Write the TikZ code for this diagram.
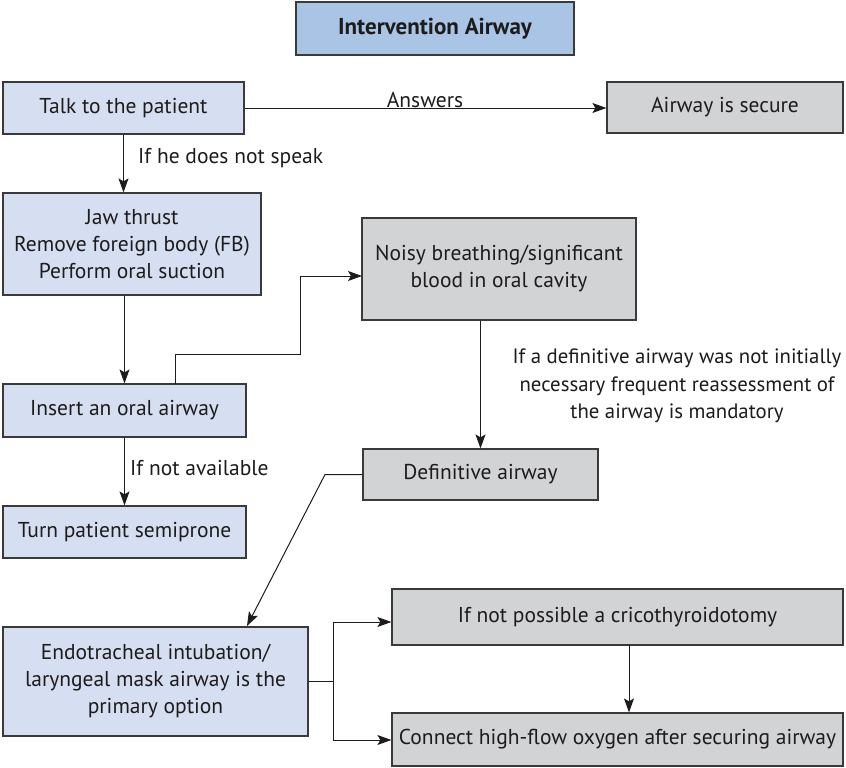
\documentclass[tikz,border=0pt]{standalone}
\usepackage{fontspec}
\setmainfont{PT Sans}
\usetikzlibrary{arrows.meta,calc}
\definecolor{boxblue}{HTML}{D6DFF1}
\definecolor{titleblue}{HTML}{A9C4E5}
\definecolor{boxgray}{HTML}{D2D3D5}
\definecolor{edge}{HTML}{3A3A3A}
\definecolor{ink}{HTML}{1E1B1C}
\begin{document}
\begin{tikzpicture}[x=1pt,y=-1pt,
  every node/.style={text=ink,font=\fontsize{21.5}{27}\selectfont},
  box/.style={draw=edge,line width=1.2pt,inner sep=0pt,align=center},
  bluebox/.style={box,fill=boxblue},
  graybox/.style={box,fill=boxgray},
  flow/.style={draw=ink,line width=1pt,-{Stealth[length=14pt,width=10pt,inset=3pt]}},
  plain/.style={draw=ink,line width=1pt},
  lbl/.style={inner sep=0pt}]
\useasboundingbox (0,0) rectangle (846,768);

% boxes
\node[box,fill=titleblue,minimum width=278pt,minimum height=53pt,font=\fontsize{23}{27}\selectfont\bfseries] (title) at (435,28.5) {Intervention Airway};
\node[bluebox,minimum width=241pt,minimum height=52pt] (talk) at (123.5,108) {Talk to the patient};
\node[graybox,minimum width=236pt,minimum height=51pt] (secure) at (725,107.5) {Airway is secure};
\node[bluebox,minimum width=258pt,minimum height=102pt] (jaw) at (132,244) {Jaw thrust\\Remove foreign body (FB)\\Perform oral suction};
\node[graybox,minimum width=274pt,minimum height=102pt] (noisy) at (499,269) {Noisy breathing/significant\\blood in oral cavity};
\node[bluebox,minimum width=243pt,minimum height=53pt] (insert) at (124.5,410.5) {Insert an oral airway};
\node[bluebox,minimum width=243pt,minimum height=52pt] (turn) at (124.5,532) {Turn patient semiprone};
\node[graybox,minimum width=235pt,minimum height=51pt] (definitive) at (480.5,474.5) {Definitive airway};
\node[bluebox,minimum width=305pt,minimum height=109pt] (endo) at (155.5,681.5) {Endotracheal intubation/\\laryngeal mask airway is the\\primary option};
\node[graybox,minimum width=451pt,minimum height=56pt] (crico) at (617.5,617) {If not possible a cricothyroidotomy};
\node[graybox,minimum width=451pt,minimum height=53pt] (oxygen) at (617.5,739.5) {Connect high-flow oxygen after securing airway};

% labels
\node[lbl,anchor=west] (speak) at (138,158) {If he does not speak};
\node[lbl] (answers) at (425,100) {Answers};
\node[lbl,anchor=west] (avail) at (130,468) {If not available};
\node[lbl,align=center,font=\fontsize{20.8}{27.5}\selectfont] (note) at (677,386) {If a definitive airway was not initially\\necessary frequent reassessment of\\the airway is mandatory};

% connectors
\draw[flow] (talk.south) -- (talk.south |- jaw.north);
\draw[flow] (talk.east) -- (secure.west |- talk.east);
\draw[flow] (insert.north |- jaw.south) -- (insert.north);
\draw[flow] (insert.south) -- (turn.north);

\coordinate (up) at (175,384);
\coordinate (nb) at (362,276);
\draw[flow] (up) -- (175,354) -- (300,354) -- (300,276) -- (nb);

\draw[flow] (definitive.north |- noisy.south) -- (definitive.north);

\coordinate (et) at (247,626);
\draw[flow] (definitive.west) -- (325,474.5) -- (et);

\coordinate (split) at (333,681.5);
\draw[plain] (endo.east) -- (split);
\draw[flow] (split) -- (333,622) -- (crico.west |- 0,622);
\draw[flow] (split) -- (333,740) -- (oxygen.west |- 0,740);

\coordinate (cs) at (629,645);
\draw[flow] (cs) -- (cs |- oxygen.north);
\end{tikzpicture}
\end{document}
